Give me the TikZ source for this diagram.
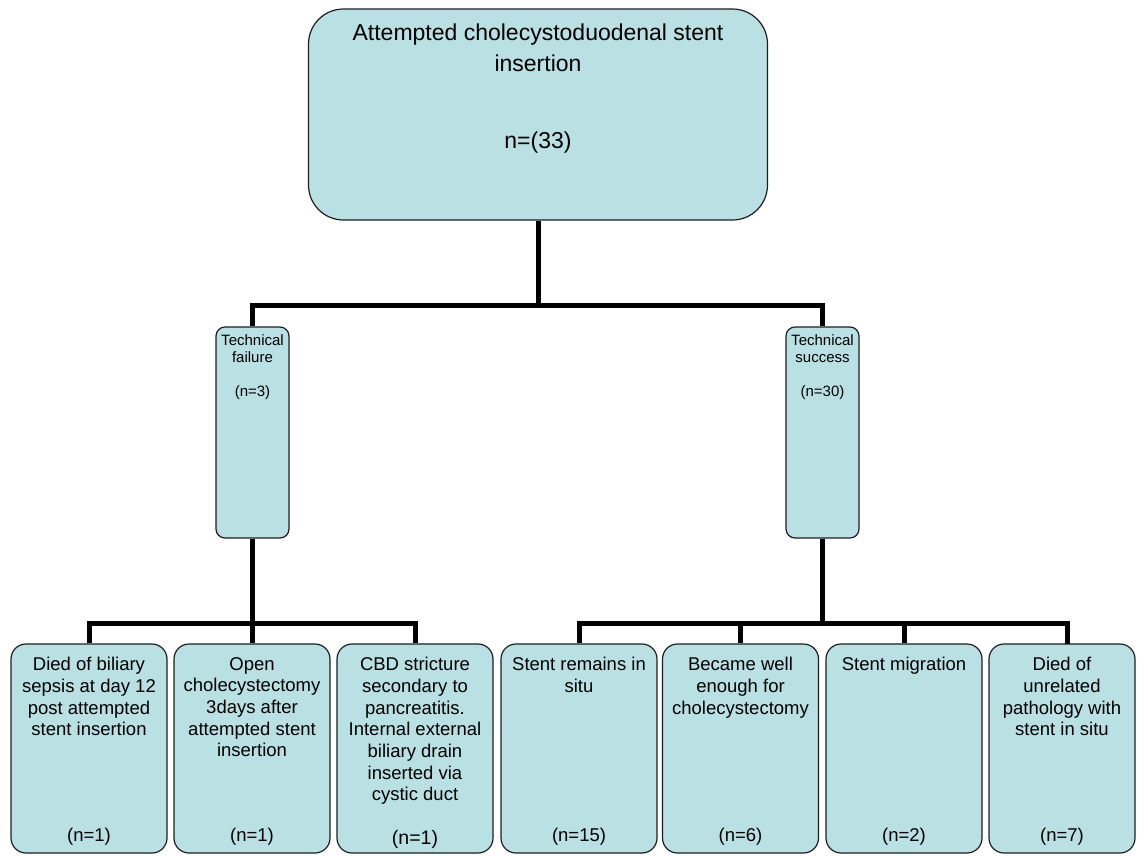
\documentclass[tikz,border=0pt]{standalone}
\usepackage{fontspec}
\setmainfont{Liberation Sans}
\definecolor{boxfill}{RGB}{185,224,227}
\definecolor{boxline}{RGB}{30,30,30}
\tikzset{
  box/.style={draw=boxline, line width=1.2pt, fill=boxfill, inner sep=0pt, rectangle},
  topbox/.style={box, rounded corners=35pt, minimum width=459pt, minimum height=211pt},
  midbox/.style={box, rounded corners=9pt, minimum width=73pt, minimum height=211pt},
  lowbox/.style={box, rounded corners=15pt, minimum width=156pt, minimum height=209pt},
  lowtxt/.style={align=center, inner sep=0pt, anchor=north, font=\fontsize{18.5pt}{21.7pt}\selectfont},
  ntxt/.style={inner sep=0pt, anchor=center, font=\fontsize{18.5pt}{21.7pt}\selectfont},
  midtxt/.style={align=center, inner sep=0pt, anchor=north, font=\fontsize{15pt}{17pt}\selectfont},
  conn/.style={draw=black, line width=5pt, line join=miter}
}
\begin{document}
\begin{tikzpicture}[x=1pt,y=-1pt]
\useasboundingbox (0,0) rectangle (1137,855);
% top
\node[topbox] (top) at (538,114.5) {};
\node[align=center, inner sep=0pt, anchor=north, font=\fontsize{23pt}{31pt}\selectfont] (toptxt) at (538,23.5) {Attempted cholecystoduodenal stent\\insertion};
\node[inner sep=0pt, font=\fontsize{23pt}{31pt}\selectfont] (topn) at (538,143) {n=(33)};
% middle
\node[midbox] (tf) at (252.5,432.5) {};
\node[midbox] (ts) at (822.5,432.5) {};
\node[midtxt] (tftxt) at (252.5,334) {Technical\\failure\\\mbox{}\\(n=3)};
\node[midtxt] (tstxt) at (822.5,334) {Technical\\success\\\mbox{}\\(n=30)};
% bottom
\node[lowbox] (b1) at (89,748.5) {};
\node[lowbox] (b2) at (252,748.5) {};
\node[lowbox] (b3) at (415,748.5) {};
\node[lowbox] (b4) at (579,748.5) {};
\node[lowbox] (b5) at (740.5,748.5) {};
\node[lowbox] (b6) at (904,748.5) {};
\node[box, rounded corners=15pt, minimum width=146pt, minimum height=209pt] (b7) at (1062,748.5) {};
\node[lowtxt] (t1) at (89,657) {Died of biliary\\sepsis at day 12\\post attempted\\stent insertion};
\node[lowtxt] (t2) at (252,657) {Open\\cholecystectomy\\3days after\\attempted stent\\insertion};
\node[lowtxt] (t3) at (415,657) {CBD stricture\\secondary to\\pancreatitis.\\Internal external\\biliary drain\\inserted via\\cystic duct};
\node[lowtxt] (t4) at (579,657) {Stent remains in\\situ};
\node[lowtxt] (t5) at (740.5,657) {Became well\\enough for\\cholecystectomy};
\node[lowtxt] (t6) at (904,657) {Stent migration};
\node[lowtxt] (t7) at (1062,657) {Died of\\unrelated\\pathology with\\stent in situ};
\node[ntxt] (n1) at (89,837) {(n=1)};
\node[ntxt] (n2) at (252,837) {(n=1)};
\node[ntxt, font=\fontsize{19.5pt}{22pt}\selectfont] (n3) at (415,839) {(n=1)};
\node[ntxt] (n4) at (579,837) {(n=15)};
\node[ntxt] (n5) at (740.5,837) {(n=6)};
\node[ntxt] (n6) at (904,837) {(n=2)};
\node[ntxt] (n7) at (1062,837) {(n=7)};
% connectors
\coordinate (j1) at (538,305);
\coordinate (j2) at (252.5,623);
\coordinate (j3) at (822.5,623);
\coordinate (b7top) at (1067,643.5);
\draw[conn] (top.south) -- (j1);
\draw[conn] (tf.north) |- (j1) -| (ts.north);
\draw[conn] (tf.south) -- (j2);
\draw[conn] (b1.north) |- (j2) -| (b3.north);
\draw[conn] (b2.north) -- (b2.north |- j2);
\draw[conn] (ts.south) -- (j3);
\draw[conn] (b4.north) |- (j3) -| (b7top);
\draw[conn] (b5.north) -- (b5.north |- j3);
\draw[conn] (b6.north) -- (b6.north |- j3);
\end{tikzpicture}
\end{document}
